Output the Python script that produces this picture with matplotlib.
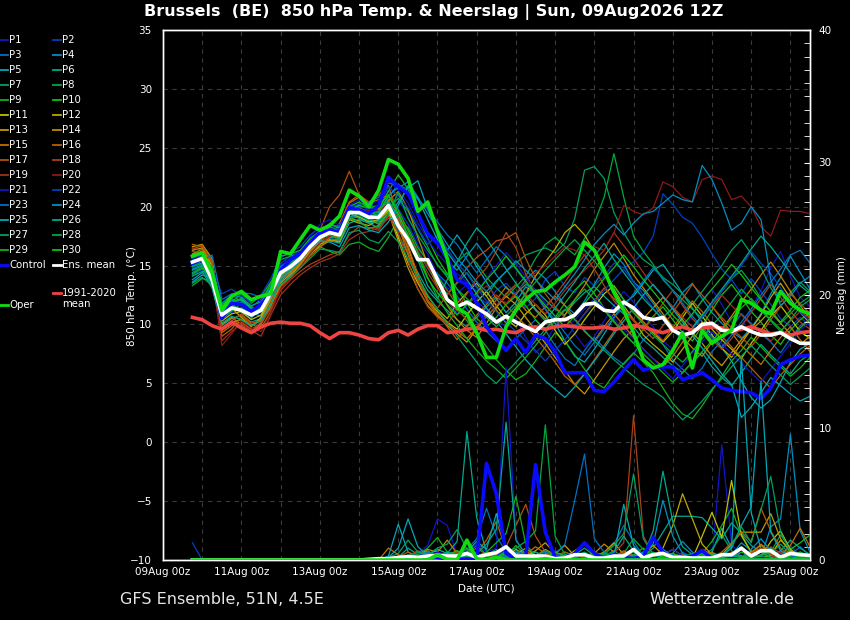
import numpy as np
import pandas as pd
import matplotlib
matplotlib.use("Agg")
import matplotlib.pyplot as plt
import matplotlib.dates as mdates
from matplotlib.lines import Line2D
from matplotlib.ticker import MultipleLocator

W, H = 850, 620

# 6-hourly steps, 09Aug 18z .. 25Aug 12z (64 steps)
times = pd.date_range("2026-08-09 18:00", periods=64, freq="6h")

#########################
##  850 hPa temperature ##
#########################

t_mean = [15.3, 15.6, 13.8, 10.8, 11.4, 11.2, 10.8, 11.2, 12.7, 14.4, 14.9, 15.6, 16.6, 17.4, 17.8, 17.6,
          19.5, 19.5, 19.1, 19.1, 20.1, 18.4, 17.2, 15.5, 15.5, 13.8, 12.1, 11.5, 11.9, 11.4, 10.9, 10.2,
          10.7, 10.2, 9.8, 9.4, 10.2, 10.4, 10.4, 10.8, 11.7, 11.8, 11.2, 11.1, 11.9, 11.4, 10.6, 10.4,
          10.6, 9.5, 9.1, 9.3, 10.0, 10.1, 9.5, 9.4, 9.8, 9.4, 9.1, 9.1, 9.3, 8.8, 8.4, 8.4]

t_control = [15.2, 15.6, 14.1, 10.5, 11.8, 11.7, 11.1, 11.7, 12.6, 14.6, 15.5, 16.0, 16.9, 17.8, 18.0, 17.8,
             19.9, 19.7, 19.4, 20.1, 22.5, 21.7, 21.1, 19.4, 17.7, 16.9, 15.6, 13.8, 13.4, 11.8, 9.8, 8.8,
             7.8, 8.8, 7.6, 9.1, 8.8, 7.7, 5.9, 5.9, 5.9, 4.4, 4.3, 5.1, 6.1, 7.0, 6.1, 6.4,
             6.4, 6.4, 5.3, 5.6, 5.9, 5.3, 4.6, 4.4, 4.3, 4.2, 3.7, 4.6, 6.6, 7.0, 7.3, 7.4]

t_oper = [15.8, 16.1, 14.4, 11.2, 12.4, 12.8, 12.1, 12.4, 12.6, 16.2, 16.0, 17.2, 18.4, 18.0, 18.4, 19.2,
          21.4, 20.9, 20.0, 21.4, 24.0, 23.6, 22.4, 19.6, 20.4, 17.9, 15.6, 11.4, 10.9, 9.3, 7.2, 7.2,
          9.8, 11.2, 12.1, 12.8, 12.9, 13.6, 14.2, 14.9, 17.0, 16.3, 14.6, 12.7, 11.2, 9.3, 7.0, 6.3,
          6.6, 7.8, 9.3, 6.3, 9.5, 8.4, 9.0, 9.5, 12.1, 11.8, 11.2, 10.9, 12.8, 11.8, 11.2, 10.9]

t_clim = [10.6, 10.4, 9.9, 9.6, 10.2, 9.7, 9.3, 9.8, 10.1, 10.2, 10.1, 10.1, 9.9, 9.3, 8.8, 9.3,
          9.3, 9.1, 8.8, 8.7, 9.3, 9.5, 9.1, 9.6, 9.9, 9.9, 9.3, 9.4, 9.6, 9.7, 9.5, 9.6,
          9.4, 9.3, 9.7, 9.8, 9.6, 9.8, 9.9, 9.8, 9.7, 9.7, 9.8, 9.6, 9.7, 9.9, 9.8, 9.5,
          9.3, 9.6, 9.8, 9.5, 9.7, 9.8, 9.7, 9.4, 9.6, 9.8, 9.5, 9.2, 9.3, 9.1, 9.3, 9.4]

t_p01 = [14.8, 15.3, 14.2, 10.2, 11.0, 11.5, 10.6, 11.0, 12.2, 14.8, 15.4, 15.9, 16.9, 17.6, 18.2, 17.9,
         19.8, 20.3, 19.6, 19.9, 21.8, 20.6, 19.2, 17.1, 16.0, 14.2, 13.1, 12.6, 13.4, 12.0, 11.2, 10.4,
         9.8, 10.5, 8.9, 7.6, 8.4, 9.9, 10.6, 9.2, 8.1, 9.0, 10.3, 11.6, 12.8, 11.9, 10.7, 9.8,
         8.6, 7.9, 9.4, 10.8, 12.1, 13.0, 11.7, 10.2, 9.6, 11.3, 12.9, 14.8, 16.2, 14.1, 12.3, 11.5]
t_p02 = [15.6, 15.9, 14.6, 11.3, 12.0, 11.7, 11.1, 11.8, 13.1, 15.2, 15.8, 16.3, 17.2, 18.0, 18.6, 18.1,
         20.2, 20.0, 19.4, 19.7, 21.4, 19.8, 18.5, 16.7, 15.2, 13.6, 12.0, 10.9, 11.6, 12.4, 11.8, 12.9,
         13.5, 12.6, 11.4, 12.2, 13.8, 14.5, 13.2, 12.7, 14.0, 13.3, 14.1, 15.2, 14.8, 15.3, 16.1, 17.5,
         21.1, 20.2, 19.1, 18.6, 17.4, 16.0, 14.7, 13.8, 12.6, 13.9, 12.8, 11.7, 10.5, 9.8, 10.6, 9.9]
t_p03 = [14.2, 14.7, 13.4, 10.6, 11.3, 12.3, 11.5, 11.2, 12.9, 14.0, 14.6, 15.3, 16.2, 17.0, 17.3, 17.1,
         19.0, 19.3, 19.0, 18.7, 19.6, 18.0, 16.9, 15.9, 15.0, 14.3, 13.5, 12.4, 11.3, 10.2, 9.4, 8.6,
         7.9, 8.8, 9.6, 10.4, 9.5, 8.2, 7.1, 6.5, 7.8, 8.9, 8.0, 7.2, 6.6, 7.5, 8.7, 9.4,
         8.3, 7.0, 6.2, 5.4, 6.3, 7.7, 8.6, 9.8, 10.9, 10.1, 9.2, 8.5, 7.6, 8.8, 9.9, 10.4]
t_p04 = [15.0, 15.2, 14.0, 11.0, 11.8, 11.0, 10.5, 11.5, 12.6, 14.1, 15.0, 15.4, 16.5, 17.2, 17.9, 17.8,
         19.6, 19.9, 19.5, 19.3, 20.8, 21.9, 21.2, 19.5, 17.6, 16.8, 15.4, 14.6, 15.8, 16.9, 15.7, 14.2,
         13.1, 12.5, 13.8, 14.6, 13.9, 12.8, 11.6, 10.9, 12.0, 13.4, 14.8, 16.0, 15.1, 13.6, 12.9, 11.8,
         10.6, 11.4, 12.7, 13.5, 12.2, 11.0, 10.1, 9.4, 8.8, 9.7, 10.9, 12.6, 14.0, 15.8, 14.4, 13.0]
t_p05 = [13.8, 14.4, 14.9, 10.9, 11.6, 11.9, 11.0, 10.7, 12.3, 13.6, 14.2, 15.0, 15.9, 16.8, 17.1, 16.9,
         18.6, 18.9, 18.6, 18.2, 19.2, 20.4, 21.6, 22.2, 19.8, 17.9, 16.3, 17.6, 16.4, 14.9, 13.6, 12.2,
         11.0, 11.9, 13.2, 12.6, 11.3, 10.1, 8.6, 7.3, 6.8, 7.9, 9.2, 10.6, 11.8, 12.4, 13.5, 14.6,
         15.1, 13.9, 12.6, 11.4, 10.2, 9.1, 8.0, 6.9, 5.2, 3.8, 2.9, 3.6, 5.1, 6.8, 7.9, 8.4]
t_p06 = [14.6, 15.0, 13.2, 9.9, 10.5, 10.8, 10.2, 10.5, 12.0, 13.9, 14.5, 15.2, 16.1, 16.9, 17.4, 17.3,
         19.1, 19.4, 18.9, 18.5, 19.8, 17.6, 16.0, 14.4, 12.9, 12.0, 11.2, 10.4, 9.8, 10.6, 11.5, 12.3,
         11.8, 12.6, 13.4, 12.9, 12.1, 11.3, 10.8, 11.9, 12.7, 13.2, 12.4, 11.6, 10.9, 9.8, 8.7, 8.0,
         7.2, 6.5, 5.9, 6.8, 7.6, 6.4, 5.5, 4.8, 5.9, 7.1, 8.3, 7.4, 6.6, 5.8, 6.9, 7.5]
t_p07 = [14.4, 14.9, 13.6, 10.4, 11.2, 11.4, 10.9, 11.6, 13.0, 14.6, 15.1, 15.8, 16.8, 17.8, 18.1, 17.7,
         19.7, 19.5, 19.2, 19.4, 20.6, 18.9, 17.4, 16.2, 14.8, 13.5, 12.6, 13.5, 14.4, 13.2, 12.4, 13.6,
         14.5, 15.2, 15.9, 16.2, 16.5, 16.1, 16.9, 19.0, 23.1, 23.4, 22.4, 19.5, 17.8, 16.4, 15.5, 14.9,
         14.0, 13.4, 12.6, 11.7, 12.8, 13.9, 15.0, 16.3, 17.2, 16.0, 14.8, 13.1, 11.9, 12.7, 13.6, 12.8]
t_p08 = [15.1, 15.5, 14.1, 11.6, 12.4, 12.0, 11.5, 12.1, 13.4, 15.5, 15.8, 16.0, 17.0, 17.5, 17.6, 17.4,
         18.9, 19.2, 18.8, 18.6, 19.9, 20.7, 19.6, 18.1, 16.6, 15.0, 14.2, 15.3, 16.1, 15.2, 14.0, 13.1,
         12.3, 13.2, 14.1, 15.6, 16.8, 17.4, 16.6, 15.9, 17.3, 18.6, 20.8, 24.5, 20.8, 17.5, 16.2, 15.1,
         13.8, 12.9, 12.1, 11.3, 10.5, 11.6, 12.8, 13.9, 14.6, 13.5, 12.2, 11.0, 10.1, 10.9, 11.8, 12.4]
t_p09 = [13.3, 13.9, 13.7, 11.1, 11.9, 12.6, 11.8, 12.4, 13.6, 14.8, 15.4, 16.1, 16.4, 16.6, 16.2, 15.9,
         16.8, 17.0, 16.5, 16.2, 17.4, 19.0, 18.2, 16.5, 15.4, 14.1, 12.9, 11.6, 10.3, 9.2, 8.1, 7.0,
         6.1, 5.3, 5.8, 6.9, 8.1, 9.3, 8.6, 7.4, 6.2, 5.1, 4.6, 5.8, 6.7, 7.6, 6.8, 5.9,
         4.6, 3.3, 2.4, 2.0, 3.1, 4.4, 5.6, 6.9, 7.8, 8.9, 8.1, 7.2, 6.4, 5.6, 6.3, 7.2]
t_p10 = [15.4, 15.8, 14.4, 10.7, 11.5, 11.2, 10.9, 11.4, 12.9, 14.4, 15.1, 15.9, 17.0, 17.6, 18.3, 18.0,
         20.0, 20.4, 19.9, 19.8, 21.3, 22.7, 21.5, 19.2, 17.3, 15.6, 14.3, 13.0, 11.8, 10.5, 9.8, 10.6,
         11.7, 12.4, 11.6, 10.4, 9.5, 10.6, 11.8, 12.9, 13.7, 12.6, 11.4, 10.3, 9.2, 8.4, 9.6, 10.7,
         11.5, 10.4, 9.3, 8.6, 9.9, 11.2, 12.5, 13.4, 12.3, 11.1, 10.2, 9.1, 8.3, 9.5, 10.4, 11.0]
t_p11 = [15.9, 16.2, 15.0, 10.3, 10.9, 11.1, 10.4, 10.8, 12.4, 14.2, 14.7, 15.4, 16.5, 17.3, 17.6, 17.5,
         19.4, 19.1, 18.7, 18.9, 19.7, 17.4, 15.2, 13.5, 12.0, 11.1, 10.2, 9.6, 10.8, 11.9, 12.8, 11.6,
         10.5, 9.8, 10.9, 11.7, 10.8, 9.5, 8.3, 9.2, 10.4, 11.5, 12.6, 13.3, 12.1, 11.0, 10.2, 9.3,
         8.5, 9.4, 10.6, 11.8, 10.7, 9.6, 8.7, 7.9, 7.1, 8.4, 9.5, 10.7, 11.6, 10.5, 9.4, 8.8]
t_p12 = [16.3, 16.5, 15.3, 10.9, 11.4, 10.6, 9.8, 10.6, 12.1, 13.9, 14.5, 15.1, 16.0, 16.8, 17.2, 17.0,
         18.9, 18.6, 18.4, 18.9, 20.0, 18.2, 16.5, 14.1, 12.4, 11.3, 10.5, 11.8, 12.7, 13.5, 12.4, 11.2,
         10.1, 11.4, 12.6, 14.1, 15.3, 16.4, 17.8, 18.5, 17.6, 16.2, 14.5, 13.0, 11.6, 10.4, 9.1, 8.3,
         7.6, 6.8, 7.9, 9.0, 10.2, 9.1, 8.0, 7.2, 8.4, 9.6, 10.8, 12.3, 13.5, 12.2, 11.0, 10.1]
t_p13 = [16.6, 16.8, 15.6, 9.6, 10.2, 10.4, 9.9, 10.4, 11.8, 13.5, 14.3, 15.0, 16.0, 16.6, 17.1, 17.2,
         19.0, 18.8, 18.1, 18.4, 19.5, 17.1, 14.8, 13.0, 11.6, 10.7, 9.9, 9.2, 8.5, 9.6, 10.7, 11.5,
         12.4, 11.7, 10.6, 9.5, 8.4, 7.2, 6.1, 4.9, 4.1, 5.3, 6.5, 7.7, 8.8, 9.6, 10.5, 11.4,
         12.3, 11.5, 10.4, 9.3, 8.4, 7.3, 6.5, 7.6, 8.7, 9.5, 10.3, 11.2, 10.1, 9.2, 8.3, 9.0]
t_p14 = [16.0, 16.4, 15.1, 10.0, 10.6, 10.0, 9.4, 10.1, 11.6, 13.3, 14.1, 15.0, 16.2, 17.0, 17.5, 17.4,
         19.3, 19.7, 19.3, 19.0, 20.5, 21.3, 19.8, 17.4, 15.1, 13.2, 11.6, 10.4, 9.5, 8.9, 10.1, 11.4,
         12.6, 13.4, 12.5, 11.3, 10.5, 9.7, 10.8, 12.1, 13.3, 14.7, 15.8, 16.9, 15.6, 14.2, 13.1, 12.0,
         10.9, 9.8, 8.9, 8.0, 7.3, 8.5, 9.6, 10.7, 11.9, 13.0, 14.2, 15.3, 14.1, 12.8, 11.6, 10.5]
t_p15 = [15.7, 16.0, 14.8, 9.3, 9.9, 10.2, 9.6, 10.0, 11.5, 13.7, 14.4, 15.2, 16.3, 17.1, 17.8, 17.9,
         20.3, 20.8, 20.2, 19.8, 20.3, 18.4, 15.9, 13.7, 11.9, 10.8, 10.1, 9.4, 8.8, 9.7, 10.9, 12.1,
         13.2, 12.3, 11.2, 10.6, 11.5, 12.4, 11.6, 10.5, 9.4, 8.6, 9.8, 10.9, 9.9, 8.9, 7.9, 7.1,
         6.4, 7.3, 8.5, 9.6, 10.8, 11.6, 10.4, 9.3, 8.2, 7.4, 6.6, 7.8, 8.9, 9.8, 8.7, 7.7]
t_p16 = [16.8, 16.6, 15.4, 9.0, 9.6, 10.7, 10.0, 9.7, 11.1, 13.2, 14.0, 14.8, 15.8, 16.5, 17.4, 18.6,
         20.4, 21.0, 20.3, 20.6, 21.0, 19.3, 16.7, 14.2, 12.1, 10.9, 9.8, 8.7, 9.9, 10.8, 11.7, 12.5,
         11.6, 10.8, 9.9, 8.9, 7.9, 6.8, 5.6, 4.9, 5.8, 7.0, 8.2, 9.4, 10.6, 11.3, 10.2, 9.4,
         8.6, 9.7, 10.9, 12.0, 11.1, 10.0, 9.0, 8.1, 7.2, 6.3, 5.4, 4.6, 5.7, 6.6, 7.5, 8.2]
t_p17 = [16.4, 16.7, 15.2, 9.7, 10.3, 10.9, 10.1, 10.3, 11.9, 14.0, 14.6, 15.5, 16.7, 18.0, 20.0, 21.0,
         23.0, 21.0, 20.4, 21.0, 21.8, 19.0, 16.2, 13.8, 12.0, 11.4, 12.5, 13.6, 14.8, 15.7, 16.3, 17.1,
         17.3, 17.8, 15.6, 13.9, 12.6, 11.5, 10.6, 9.8, 10.9, 12.0, 13.1, 12.2, 11.3, 10.4, 9.6, 8.8,
         9.9, 11.0, 12.2, 13.4, 12.5, 11.5, 10.6, 9.7, 8.9, 8.1, 9.2, 10.4, 11.5, 12.6, 11.8, 10.9]
t_p18 = [16.2, 16.1, 14.5, 9.5, 10.0, 9.9, 9.5, 10.2, 11.3, 12.9, 13.8, 14.5, 15.1, 15.5, 15.9, 16.2,
         17.6, 18.3, 18.2, 18.0, 19.2, 17.8, 15.4, 13.0, 11.5, 10.6, 10.0, 11.3, 12.6, 13.9, 14.8, 16.2,
         17.8, 16.5, 14.3, 12.6, 11.4, 12.5, 13.6, 14.8, 15.9, 14.7, 13.3, 12.0, 11.1, 10.3, 9.5, 10.6,
         11.8, 12.9, 11.6, 10.5, 9.6, 8.7, 7.9, 8.8, 9.9, 11.0, 12.2, 13.4, 12.3, 11.1, 10.2, 9.6]
t_p19 = [16.5, 16.3, 13.9, 8.6, 9.4, 10.1, 9.5, 9.0, 10.8, 12.5, 13.4, 14.2, 14.8, 15.3, 15.6, 16.0,
         17.2, 17.7, 17.9, 18.2, 19.0, 18.6, 17.7, 16.0, 14.4, 13.1, 12.0, 11.2, 10.4, 9.8, 10.7, 11.6,
         12.5, 13.4, 12.6, 11.7, 10.9, 11.8, 12.9, 13.8, 14.6, 15.4, 16.3, 17.8, 16.7, 15.6, 14.4, 13.3,
         12.4, 11.5, 10.6, 9.8, 10.7, 11.6, 12.5, 11.6, 10.8, 10.0, 9.3, 8.6, 9.4, 10.3, 11.1, 10.5]
t_p20 = [15.8, 16.1, 14.7, 8.2, 9.2, 10.3, 9.7, 9.4, 11.0, 13.0, 13.9, 14.9, 16.0, 16.9, 17.5, 17.7,
         19.5, 19.8, 19.7, 19.6, 20.3, 19.5, 17.9, 16.3, 14.9, 13.7, 12.8, 12.1, 11.6, 12.5, 13.3, 12.4,
         11.8, 12.7, 13.6, 14.4, 15.0, 15.8, 16.6, 16.3, 15.9, 16.6, 16.3, 17.8, 20.1, 19.6, 19.3, 19.9,
         22.1, 21.7, 20.8, 20.4, 22.3, 22.6, 22.3, 20.6, 20.9, 20.0, 18.3, 17.5, 19.7, 19.6, 19.6, 19.4]
t_p21 = [15.5, 15.7, 14.3, 11.4, 12.1, 12.9, 12.2, 12.0, 13.3, 15.0, 15.6, 16.2, 17.4, 18.5, 18.9, 18.4,
         20.1, 20.6, 20.0, 20.5, 22.2, 21.4, 20.3, 18.6, 17.2, 16.0, 15.1, 14.3, 13.6, 12.8, 13.9, 15.0,
         16.1, 15.2, 14.0, 12.9, 11.8, 10.7, 9.6, 10.4, 11.3, 12.2, 11.4, 10.5, 9.6, 8.8, 7.9, 7.1,
         6.2, 5.4, 6.5, 7.6, 8.5, 9.4, 8.4, 7.5, 6.7, 5.9, 5.1, 6.2, 7.3, 8.4, 9.5, 10.2]
t_p22 = [15.3, 15.6, 14.8, 12.6, 13.0, 12.4, 11.9, 12.5, 13.9, 15.7, 16.1, 16.6, 17.6, 18.2, 18.4, 18.0,
         20.0, 20.1, 19.8, 20.2, 21.7, 20.9, 19.9, 18.2, 16.8, 17.6, 16.4, 15.2, 14.3, 13.1, 12.0, 11.1,
         10.2, 9.4, 8.6, 7.8, 6.9, 7.8, 8.7, 9.8, 10.9, 11.8, 12.9, 13.8, 14.7, 13.6, 12.5, 11.4,
         10.4, 9.5, 8.7, 9.6, 10.6, 11.7, 12.8, 13.9, 15.0, 16.2, 15.2, 14.3, 13.1, 12.0, 11.0, 10.3]
t_p23 = [14.9, 15.4, 15.9, 12.1, 12.6, 12.7, 12.6, 12.3, 13.1, 14.5, 15.3, 15.9, 16.9, 17.9, 18.5, 18.3,
         19.7, 20.2, 20.4, 20.8, 22.0, 21.8, 21.5, 20.6, 19.8, 18.7, 17.6, 16.8, 15.5, 14.4, 15.5, 16.6,
         15.8, 14.7, 13.6, 12.5, 11.3, 10.4, 9.3, 8.2, 7.4, 8.5, 9.6, 10.6, 11.5, 12.6, 13.7, 14.8,
         13.9, 12.9, 11.8, 10.7, 9.8, 8.9, 8.1, 9.1, 10.2, 11.3, 12.5, 13.6, 14.7, 15.9, 16.3, 15.2]
t_p24 = [14.7, 15.1, 14.6, 11.8, 12.5, 12.3, 11.6, 11.9, 13.2, 14.9, 15.5, 16.0, 17.1, 17.8, 18.0, 17.6,
         19.3, 19.6, 19.5, 19.5, 21.0, 21.6, 22.1, 20.8, 19.4, 18.1, 16.8, 15.6, 14.7, 13.6, 12.8, 13.7,
         14.5, 15.4, 14.6, 13.8, 12.9, 12.1, 13.2, 14.3, 15.5, 16.8, 17.7, 18.5, 17.6, 18.6, 19.4, 19.6,
         20.3, 21.0, 20.6, 20.4, 23.5, 22.3, 20.3, 18.0, 18.6, 20.0, 18.9, 13.8, 11.6, 12.4, 13.5, 14.1]
t_p25 = [13.6, 14.2, 13.9, 11.5, 12.0, 12.1, 11.3, 11.1, 12.5, 14.0, 14.8, 15.6, 16.4, 17.1, 17.0, 16.6,
         18.2, 18.4, 18.0, 17.8, 18.7, 20.1, 21.8, 20.7, 18.9, 17.2, 16.1, 15.0, 13.8, 12.6, 11.4, 10.3,
         9.2, 8.1, 7.0, 6.1, 5.2, 4.5, 3.8, 4.7, 5.8, 6.9, 8.0, 9.2, 10.3, 11.4, 12.5, 13.4,
         12.4, 11.3, 10.2, 9.1, 8.0, 6.9, 5.8, 4.9, 2.1, 3.0, 4.2, 5.5, 4.8, 4.1, 3.5, 3.9]
t_p26 = [14.1, 14.5, 13.1, 10.1, 10.7, 10.4, 9.9, 10.3, 11.7, 13.8, 14.6, 15.4, 16.5, 17.4, 17.7, 17.5,
         19.4, 19.0, 18.6, 18.8, 20.4, 19.3, 17.5, 15.5, 13.3, 12.2, 13.8, 15.3, 16.9, 18.2, 17.3, 16.0,
         14.7, 13.5, 12.3, 11.2, 10.3, 11.4, 12.5, 13.6, 14.8, 15.8, 16.9, 15.5, 14.4, 13.3, 12.2, 11.3,
         10.4, 9.5, 8.8, 9.7, 10.8, 11.9, 13.0, 14.1, 15.2, 16.4, 17.5, 16.6, 15.5, 14.4, 13.3, 12.6]
t_p27 = [13.5, 14.0, 13.3, 10.5, 11.1, 11.8, 11.2, 11.4, 12.4, 13.4, 14.0, 14.8, 15.6, 16.4, 16.3, 16.1,
         17.8, 18.0, 17.2, 16.9, 17.9, 17.0, 15.6, 14.0, 12.5, 11.3, 10.1, 9.0, 7.9, 6.8, 5.7, 5.0,
         5.9, 6.8, 7.7, 8.6, 9.6, 10.5, 11.3, 10.4, 9.5, 8.6, 7.8, 7.0, 6.3, 5.6, 4.9, 4.4,
         3.8, 2.8, 1.9, 2.6, 3.5, 4.5, 5.4, 6.4, 7.3, 8.2, 7.4, 6.5, 5.7, 4.9, 5.6, 6.3]
t_p28 = [14.9, 15.2, 13.5, 10.8, 11.6, 11.3, 10.7, 11.1, 12.8, 14.7, 15.3, 15.7, 16.6, 17.3, 17.6, 17.2,
         19.0, 18.7, 18.2, 18.3, 19.4, 21.2, 19.0, 17.6, 16.3, 15.1, 14.0, 13.0, 12.2, 11.4, 10.6, 9.8,
         10.7, 11.6, 12.6, 13.6, 14.6, 15.5, 16.4, 17.2, 16.3, 15.4, 14.3, 13.2, 12.1, 11.0, 10.0, 9.1,
         8.3, 7.5, 6.8, 7.7, 8.8, 9.9, 10.8, 11.9, 13.0, 12.1, 11.2, 10.3, 9.4, 10.4, 11.5, 12.1]
t_p29 = [14.3, 14.8, 14.0, 11.7, 12.2, 11.6, 11.2, 11.7, 13.5, 15.8, 16.0, 16.3, 17.3, 17.9, 18.5, 18.2,
         19.9, 19.7, 19.3, 19.6, 20.9, 19.7, 18.0, 16.1, 14.0, 12.3, 11.0, 9.9, 8.8, 7.8, 6.9, 6.2,
         5.4, 6.3, 7.2, 8.2, 9.3, 10.3, 11.2, 12.1, 13.0, 12.1, 11.2, 10.2, 9.3, 8.4, 7.5, 6.7,
         5.9, 5.1, 5.9, 6.8, 7.7, 8.6, 9.5, 10.5, 11.4, 12.2, 11.3, 10.4, 9.6, 8.8, 9.7, 10.5]
t_p30 = [15.2, 15.7, 14.9, 11.3, 11.9, 12.2, 11.4, 11.3, 12.7, 14.3, 15.0, 15.8, 16.9, 17.7, 17.9, 17.6,
         19.6, 20.1, 19.9, 20.1, 21.0, 19.4, 17.6, 15.7, 13.9, 12.7, 11.7, 10.8, 11.7, 12.7, 13.8, 14.7,
         15.8, 14.8, 13.7, 12.6, 11.6, 10.7, 9.8, 10.7, 11.8, 12.8, 13.9, 14.8, 15.9, 14.9, 13.8, 12.8,
         11.8, 10.8, 9.9, 10.9, 12.0, 13.0, 14.0, 15.1, 14.2, 13.1, 12.1, 11.1, 10.2, 11.2, 12.3, 12.9]

#########################
##   neerslag (mm)     ##
#########################

r_mean = [0, 0, 0, 0, 0, 0, 0, 0, 0, 0, 0, 0, 0, 0, 0, 0,
          0, 0, 0.05, 0.1, 0.1, 0.2, 0.25, 0.2, 0.3, 0.35, 0.3, 0.3, 0.5, 0.2, 0.4, 0.55,
          1.0, 0.3, 0.3, 0.3, 0.3, 0.1, 0.15, 0.4, 0.4, 0.15, 0.15, 0.3, 0.3, 0.8, 0.15, 0.4,
          0.5, 0.2, 0.2, 0.15, 0.15, 0.15, 0.4, 0.4, 0.9, 0.3, 0.7, 0.7, 0.2, 0.5, 0.4, 0.35]

r_control = [0, 0, 0, 0, 0, 0, 0, 0, 0, 0, 0, 0, 0, 0, 0, 0,
             0, 0, 0, 0, 0, 0, 0.1, 0.2, 0.3, 0.2, 0.1, 0, 0.1, 0, 7.3, 5.0,
             0.5, 0.1, 0.2, 7.2, 2.1, 0.2, 0, 0.5, 1.3, 0.5, 0.1, 0.4, 0.2, 0.1, 0.3, 1.7,
             0.6, 0.1, 0.1, 0.3, 0.7, 0.1, 0, 0.1, 0, 0, 0.1, 0, 0, 0, 0, 0]

r_oper = [0, 0, 0, 0, 0, 0, 0, 0, 0, 0, 0, 0, 0, 0, 0, 0,
          0, 0, 0, 0, 0, 0, 0, 0, 0, 0.4, 0.05, 0, 1.5, 0.1, 0, 0.2,
          0, 0, 0, 0, 0.1, 0, 0, 0, 0, 0, 0, 0, 0, 0, 0, 0,
          0, 0, 0, 0, 0, 0, 0, 0, 0, 0, 0, 0, 0, 0, 0, 0]

# members are dry up to 14Aug 18z
dry = [0.0] * 20

r_p01 = dry + [0, 0, 0.2, 0.5, 1.1, 3.1, 2.6, 0.4, 0.2, 0, 0.3,
               0.1, 0.6, 0.2, 0, 0, 0.3, 0.1, 0, 0, 0.4, 0.2,
               0, 0, 0.3, 0.8, 0.2, 0, 0, 0.1, 0, 0.5, 0.1,
               0, 8.7, 1.2, 0.3, 0, 0.2, 0.6, 0.1, 0, 0.3, 0.1]
r_p02 = [1.3] + dry[1:] + [0, 0, 0, 0.1, 0.3, 0.2, 0.6, 0.4, 0.1, 0, 0.2,
                          0.5, 0.3, 0.1, 0, 0, 0.2, 0.7, 0.1, 0, 0, 0.3,
                          0.1, 0, 0, 0.2, 0.4, 0.1, 0, 0, 0.6, 0.2, 0,
                          0, 0.1, 0.3, 0.8, 0.2, 0, 0, 0.4, 1.1, 0.3, 0.1]
r_p03 = dry + [0, 0, 0, 0, 0.2, 0.1, 0, 0.3, 0.8, 1.6, 3.9,
               1.8, 0.6, 0.2, 0, 0.1, 0, 0, 0.3, 0.2, 0, 0,
               0.4, 1.2, 2.6, 1.4, 0.3, 0, 0, 0.1, 0, 0, 0.2,
               0.5, 0.1, 0, 0, 0.3, 0.2, 0, 0, 0.4, 1.0, 0.3]
r_p04 = dry + [0, 0, 0, 0, 0, 0.1, 0.3, 0.1, 0, 0, 0.2,
               0.4, 0.1, 0, 0.2, 0.6, 0.3, 0, 0, 0.1, 0, 0.2,
               0.6, 0.3, 0, 0, 0.2, 0.1, 0, 0.5, 1.4, 0.6, 0.1,
               0, 0.2, 0.4, 1.3, 0.7, 0.2, 2.5, 3.1, 9.5, 2.2, 0.6]
r_p05 = dry + [0.3, 2.7, 0.6, 0.2, 0, 0, 0.1, 0.4, 0.2, 0, 0,
               0.1, 0.8, 0.3, 0, 0, 0.2, 0, 0.1, 0.5, 0.2, 0,
               0, 0.3, 4.2, 1.1, 0.2, 0, 0, 0.3, 0.1, 0, 0.2,
               0.6, 2.4, 0.9, 15.3, 3.6, 0.8, 0.3, 0.1, 0, 0.2, 0.4]
r_p06 = dry + [0, 0.2, 0.9, 0.4, 0.3, 0.8, 0.5, 1.4, 9.7, 3.2, 0.6,
               0.2, 0, 0, 0.3, 0.6, 0.2, 0, 0, 0.4, 0.9, 0.3,
               0.1, 0, 0.2, 0.6, 0.3, 0.9, 2.1, 3.3, 3.3, 3.3, 3.2,
               2.4, 1.6, 2.8, 2.0, 1.1, 0.6, 0.3, 0.7, 1.5, 0.9, 0.4]
r_p07 = dry + [0.2, 0.5, 1.5, 0.6, 0.2, 0, 0.1, 0.3, 0.2, 0, 0.4,
               0.8, 0.2, 0, 0, 0.1, 0.3, 0.5, 0.2, 0, 0, 0.1,
               0.3, 0.6, 0.2, 0, 0, 0.1, 0.4, 0.2, 0, 0, 0.3,
               0.8, 1.9, 0.7, 0.2, 0, 0.1, 0.5, 1.2, 0.4, 0.1, 0]
r_p08 = dry + [0, 0, 0.1, 0.3, 0.7, 0.2, 0, 0.1, 0.5, 1.1, 0.4,
               0.2, 0.9, 0.4, 0.1, 0, 0.2, 0.1, 0, 0.3, 0.6, 0.2,
               0.1, 0, 0.5, 1.6, 0.8, 0.3, 0, 0.1, 0.2, 0, 0.4,
               0.2, 0, 0.3, 0.9, 0.4, 0.1, 0.6, 1.9, 0.8, 0.2, 0.1]
r_p09 = dry + [0, 0, 0.2, 0.4, 0.9, 1.7, 0.6, 0.3, 0.1, 0.4, 0.2,
               0, 0.3, 1.1, 0.4, 0.1, 0, 0.2, 0.6, 0.3, 0, 0,
               0.2, 0.1, 0, 0.4, 0.9, 0.3, 0, 0.2, 0.1, 0, 0.5,
               1.4, 2.6, 3.9, 1.8, 0.6, 0.2, 0, 0.3, 0.7, 0.2, 0.1]
r_p10 = dry + [0, 0.1, 0.3, 0.1, 0, 0.2, 0.5, 0.2, 0, 0, 0.3,
               0.1, 0, 0.2, 0.6, 0.2, 0, 0.1, 0.4, 0.2, 0, 0,
               0.3, 0.7, 0.2, 0, 0.1, 0.3, 0.1, 0, 0, 0.2, 0.5,
               0.1, 0, 0.2, 0.6, 0.3, 0.1, 0, 0.2, 0.8, 1.3, 1.9]
r_p11 = dry + [0, 0, 0.1, 0.2, 0.6, 0.3, 0.1, 0, 0.2, 0.5, 0.1,
               0, 0.2, 0.4, 0.9, 0.3, 0.1, 0, 0.2, 0.7, 1.2, 0.4,
               0.1, 0, 0.3, 0.2, 0, 0, 0.4, 0.8, 0.3, 0.1, 1.8,
               3.6, 1.7, 6.0, 1.9, 0.6, 0.2, 1.4, 2.2, 0.8, 0.3, 0.1]
r_p12 = dry + [0, 0, 0, 0.2, 0.4, 0.1, 0, 0.3, 0.6, 0.2, 0,
               0.1, 0.3, 0.8, 0.4, 0.2, 0, 0.5, 1.1, 0.3, 0, 0.2,
               0.6, 1.3, 0.4, 0.1, 0.3, 0.2, 0.9, 2.6, 5.0, 3.1, 1.2,
               0.4, 0.1, 0.3, 0.8, 0.2, 0, 0.4, 1.5, 0.7, 0.2, 0]
r_p13 = dry + [0, 0, 0, 0, 0.1, 0.3, 0.5, 0.2, 0, 0.1, 0.4,
               0.2, 0, 0.1, 0.3, 0.7, 1.3, 0.5, 0.1, 0, 0.2, 0.6,
               0.3, 0.1, 0, 0.2, 0.5, 1.1, 0.4, 0, 0.1, 0.3, 0.2,
               0, 0.4, 1.2, 2.1, 2.1, 2.1, 3.5, 1.6, 0.6, 0.2, 0.1]
r_p14 = dry + [0, 0, 0.2, 0.3, 0.8, 0.6, 1.5, 0.5, 0.2, 0, 0.1,
               0.4, 0.2, 0, 0, 0.3, 0.8, 0.4, 0.1, 0, 0.2, 0.5,
               1.2, 0.6, 0.2, 0, 0.1, 0.4, 0.2, 0, 0, 0.3, 0.8,
               0.4, 0.1, 0, 0.2, 0.6, 1.1, 0.5, 0.2, 0, 0.1, 0.3]
r_p15 = dry + [0.9, 0.4, 0.1, 0, 0.2, 0.5, 0.3, 0.1, 0, 0.2, 0.6,
               0.3, 0.1, 0, 0.4, 1.0, 0.5, 0.1, 0, 0.2, 0.3, 0.1,
               0, 0.2, 0.7, 0.3, 0, 0.1, 0.4, 0.2, 0, 0, 0.3,
               0.6, 0.2, 0, 0.1, 0.5, 1.2, 0.6, 0.3, 1.1, 2.4, 1.0]
r_p16 = dry + [0, 0.2, 0.6, 0.3, 0.1, 0, 0.4, 0.7, 0.3, 0.6, 1.5,
               2.9, 0.8, 0.2, 0, 0.1, 0, 0.3, 0.6, 0.2, 0, 0.1,
               0.4, 0.2, 0, 0.3, 0.6, 0.2, 0, 0.1, 0.4, 0.2, 0,
               0.2, 0.6, 1.3, 2.1, 1.4, 3.9, 2.2, 0.9, 0.3, 0.1, 0.2]
r_p17 = dry + [0, 0, 0.3, 0.7, 0.4, 0.1, 0, 0.2, 0.5, 0.9, 0.4,
               0.2, 1.0, 2.6, 4.2, 1.8, 0.6, 0.2, 0, 0.1, 0.3, 0.1,
               0, 0.2, 0.6, 0.3, 0, 0, 0.2, 0.5, 0.2, 0, 0.1,
               0.3, 0.1, 0, 0.2, 0.5, 0.9, 0.4, 0.1, 0, 0.2, 0.4]
r_p18 = dry + [0, 0, 0.1, 0.4, 0.2, 0, 0.3, 0.6, 0.2, 0, 0.1,
               0.4, 0.2, 0, 0.1, 0.3, 0.7, 0.2, 0, 0, 0.1, 0.3,
               0.2, 0.5, 1.3, 10.9, 1.8, 0.4, 0.1, 0, 0.2, 0.3, 0.1,
               0, 0.2, 0.6, 0.3, 0.1, 0.4, 1.0, 0.5, 0.2, 0, 0.1]
r_p19 = dry + [0, 0, 0, 0.2, 0.5, 0.3, 0.1, 0, 0.2, 0.4, 0.2,
               0, 0.1, 0.3, 0.2, 0, 0.1, 0.4, 0.2, 0, 0, 0.2,
               0.5, 0.2, 0, 0.1, 0.3, 0.1, 0, 0, 0.2, 0.4, 0.1,
               0, 0.1, 0.3, 0.2, 0, 0, 0.2, 0.6, 0.3, 0.1, 0]
r_p20 = dry + [0, 0, 0, 0, 0.1, 0.3, 0.2, 0, 0.1, 0.3, 0.1,
               0, 0, 0.2, 0.5, 0.2, 0, 0, 0.1, 0.3, 0.1, 0,
               0, 0.1, 0, 0, 0, 0.2, 0.1, 0, 0, 0, 0,
               0.1, 0, 0, 0, 0.2, 0.1, 0, 0, 0, 0.1, 0.2]
r_p21 = dry + [0, 0, 0, 0.1, 0.3, 0.6, 0.4, 0.2, 0.5, 1.2, 0.6,
               0.9, 14.5, 1.6, 0.4, 0.1, 0, 0.2, 0.5, 0.2, 0, 0.1,
               0.3, 0.6, 0.2, 0, 0, 0.1, 0.4, 0.8, 0.3, 0.1, 0,
               0.2, 0.5, 0.1, 0, 0.3, 0.6, 0.2, 0, 0.1, 0.4, 0.2]
r_p22 = dry + [0, 0, 0.2, 0.5, 0.2, 0, 0.1, 0.3, 0.6, 0.2, 0,
               0.3, 0.8, 0.4, 0.1, 0, 0.2, 0.5, 0.3, 0, 0, 0.2,
               0.4, 0.1, 0, 0.3, 0.6, 0.2, 0, 0.1, 0.3, 0.1, 0,
               0.2, 0.4, 0.1, 0, 0.3, 0.7, 0.2, 0, 0.1, 0.3, 0.5]
r_p23 = dry + [0, 0, 0.1, 0.2, 0.6, 0.3, 0.1, 0, 0.2, 0.4, 0.2,
               0.1, 0.3, 0.7, 0.4, 0.2, 0.6, 0.4, 1.2, 4.5, 8.0, 1.6,
               0.6, 0.2, 0.1, 0.3, 0.2, 0, 0.1, 0.4, 0.2, 0, 0.1,
               0.3, 0.2, 0, 0.1, 0.4, 0.2, 0, 0.1, 0.3, 0.2, 0]
r_p24 = dry + [0, 0, 0, 0.1, 0.3, 0.2, 0, 0.2, 0.5, 0.3, 0.1,
               0, 0.2, 0.6, 0.3, 0.1, 0, 0.2, 0.4, 0.2, 0, 0.1,
               0.3, 0.1, 0, 0.2, 0.6, 1.2, 4.5, 1.8, 0.5, 0.2, 0,
               0, 0.1, 0.3, 0.2, 0.8, 1.6, 0.7, 0.3, 0.1, 0.2, 0.4]
r_p25 = dry + [0.2, 0.9, 3.1, 1.0, 0.3, 0.1, 0, 0.2, 0.6, 1.4, 0.8,
               3.5, 0.9, 0.2, 0, 0.1, 0.3, 0.1, 0, 0.2, 0.5, 0.2,
               0, 0.1, 0.4, 0.2, 0, 0.3, 0.8, 0.3, 0.1, 0, 0.2,
               0.5, 0.3, 0.9, 2.6, 4.0, 13.5, 2.1, 0.7, 0.3, 0.6, 0.2]
r_p26 = dry + [0, 0.1, 0.4, 0.2, 0, 0.3, 0.6, 0.4, 0.2, 0.5, 1.2,
               2.3, 10.4, 1.5, 0.4, 0.1, 0, 0.3, 0.2, 0, 0.1, 0.4,
               0.2, 0.6, 1.8, 0.7, 0.3, 2.2, 6.7, 2.9, 1.0, 0.4, 0.1,
               0, 0.2, 0.5, 0.3, 0.1, 0.4, 0.9, 0.3, 0.1, 0, 0.2]
r_p27 = dry + [0, 0, 0.2, 0.6, 0.4, 0.9, 1.2, 2.3, 0.8, 0.2, 0,
               0.1, 0.4, 0.2, 0, 0.3, 0.7, 0.3, 0.1, 0, 0.2, 0.5,
               0.4, 1.1, 2.0, 6.5, 1.6, 0.4, 0.1, 0, 0.2, 0.5, 0.3,
               0.1, 0.3, 1.1, 2.5, 1.3, 3.8, 6.3, 2.1, 0.6, 0.2, 0.1]
r_p28 = dry + [0, 0, 0.1, 0.3, 0.2, 0, 0.2, 0.5, 0.3, 0.1, 0.4,
               0.2, 0.6, 0.9, 1.4, 2.2, 10.2, 1.8, 0.4, 0.1, 0, 0.2,
               0.5, 0.2, 0, 0.1, 0.3, 0.6, 0.2, 0, 0.1, 0.4, 0.2,
               0, 0.1, 0.4, 0.2, 0, 0.3, 0.7, 0.3, 0.1, 0, 0.2]
r_p29 = dry + [0, 0, 0, 0.2, 0.5, 0.3, 0.1, 0.4, 0.9, 0.3, 0.6,
               1.3, 2.0, 4.8, 1.2, 0.3, 0.1, 0, 0.2, 0.5, 0.3, 0,
               0.1, 0.3, 0.2, 0, 0.2, 0.5, 0.3, 0.1, 0, 0.2, 0.6,
               0.3, 0.1, 0, 0.2, 0.5, 0.2, 0.1, 0, 0.3, 0.6, 0.3]
r_p30 = dry + [0, 0, 0.2, 0.4, 0.1, 0, 0.3, 0.7, 0.3, 0.1, 0,
               0.2, 0.5, 0.3, 0.1, 0, 0.2, 0.6, 0.3, 0, 0.1, 0.3,
               0.2, 0, 0.1, 0.4, 0.2, 0, 0.3, 0.5, 0.2, 0, 0.1,
               0.4, 0.2, 0, 0.1, 0.3, 0.6, 0.2, 0, 0.1, 0.3, 0.2]

temps = [t_p01, t_p02, t_p03, t_p04, t_p05, t_p06, t_p07, t_p08, t_p09, t_p10,
         t_p11, t_p12, t_p13, t_p14, t_p15, t_p16, t_p17, t_p18, t_p19, t_p20,
         t_p21, t_p22, t_p23, t_p24, t_p25, t_p26, t_p27, t_p28, t_p29, t_p30]
rains = [r_p01, r_p02, r_p03, r_p04, r_p05, r_p06, r_p07, r_p08, r_p09, r_p10,
         r_p11, r_p12, r_p13, r_p14, r_p15, r_p16, r_p17, r_p18, r_p19, r_p20,
         r_p21, r_p22, r_p23, r_p24, r_p25, r_p26, r_p27, r_p28, r_p29, r_p30]

# kleuren P1..P20, P21..P30 herhalen P1..P10
kleuren = ['#1414c8', '#0040c0', '#0070c0', '#0090c0', '#00a8b8', '#00a890', '#00a060', '#00a840',
           '#10b020', '#10c010', '#c0c000', '#c0a800', '#c09800', '#c08800', '#c07000', '#b86000',
           '#b05010', '#a84018', '#a03020', '#901818']
kleuren = kleuren + kleuren[:10]

c_control = '#0a0aff'
c_oper = '#10dd10'
c_mean = '#ffffff'
c_clim = '#ee4444'

#########################
##      figuur         ##
#########################

fig = plt.figure(figsize=(8.5, 6.2), dpi=100, facecolor='black')
ax = fig.add_axes([163 / W, 60 / H, 647 / W, 530 / H])
ax.set_facecolor('black')
ax2 = ax.twinx()

for k in range(30):
    ax.plot(times, temps[k], color=kleuren[k], lw=0.9, zorder=3)
ax.plot(times, t_clim, color=c_clim, lw=2.6, zorder=4)
ax.plot(times, t_control, color=c_control, lw=2.6, zorder=5)
ax.plot(times, t_mean, color=c_mean, lw=2.6, zorder=5)
ax.plot(times, t_oper, color=c_oper, lw=2.6, zorder=6)

for k in range(30):
    ax2.plot(times, rains[k], color=kleuren[k], lw=0.9, zorder=3)
ax2.plot(times, r_control, color=c_control, lw=2.6, zorder=5)
ax2.plot(times, r_mean, color=c_mean, lw=2.6, zorder=5)
ax2.plot(times, r_oper, color=c_oper, lw=2.6, zorder=6)

ax.set_xlim(pd.Timestamp("2026-08-09 00:00"), pd.Timestamp("2026-08-25 12:00"))
ax.set_ylim(-10, 35)
ax.set_yticks(range(-10, 36, 5))
ax.set_xticks(pd.date_range("2026-08-09", "2026-08-25", freq="2D"))
ax.set_xticks(pd.date_range("2026-08-09", "2026-08-25", freq="1D"), minor=True)
ax.xaxis.set_major_formatter(mdates.DateFormatter("%d%b %Hz"))

grid_kw = dict(color='#3a3a3a', linestyle=(0, (4, 4)), linewidth=0.8)
ax.grid(True, which='both', axis='x', **grid_kw)
ax.grid(True, which='major', axis='y', **grid_kw)
ax.set_axisbelow(True)

ax.tick_params(axis='both', which='both', length=0, colors='white', labelsize=7.5)
ax.tick_params(axis='x', pad=5)
ax.tick_params(axis='y', pad=8)

ax2.set_ylim(0, 40)
ax2.set_yticks([0, 10, 20, 30, 40])
ax2.yaxis.set_minor_locator(MultipleLocator(1))
ax2.tick_params(axis='y', which='both', direction='in', color='white', length=4,
                labelcolor='white', labelsize=7.5, pad=6)

for a in (ax, ax2):
    for s in a.spines.values():
        s.set_color('white')
        s.set_linewidth(1.0)

ax.set_ylabel('850 hPa Temp. (°C)', color='white', fontsize=7.5)
ax.yaxis.set_label_coords(-0.040, 0.498)
ax2.set_ylabel('Neerslag (mm)', color='white', fontsize=7.5, labelpad=4)
ax.set_xlabel('Date (UTC)', color='white', fontsize=7.5, labelpad=5)

fig.text(434 / W, 1 - 12 / H, 'Brussels  (BE)  850 hPa Temp. & Neerslag | Sun, 09Aug2026 12Z',
         ha='center', va='center', color='white', fontsize=11.5, fontweight='bold')
fig.text(120 / W, 1 - 599 / H, 'GFS Ensemble, 51N, 4.5E', ha='left', va='center',
         color='#e6e6e6', fontsize=11.5)
fig.text(794 / W, 1 - 599 / H, 'Wetterzentrale.de', ha='right', va='center',
         color='#e6e6e6', fontsize=11.5)

#########################
##      legenda        ##
#########################

def leg_item(x0, y, color, label, lw=1.3):
    fig.add_artist(Line2D([x0 / W, (x0 + 8) / W], [1 - y / H, 1 - y / H],
                          transform=fig.transFigure, color=color, lw=lw))
    fig.text((x0 + 9) / W, 1 - y / H, label, ha='left', va='center',
             color='white', fontsize=7.3)

for k in range(30):
    col = k % 2
    row = k // 2
    leg_item(0 if col == 0 else 53, 40 + 15 * row, kleuren[k], 'P%d' % (k + 1))

leg_item(0, 265, c_control, 'Control', lw=2)
leg_item(53, 265, c_mean, 'Ens. mean', lw=2)
leg_item(53, 293, c_clim, '1991-2020', lw=2)
fig.text(62 / W, 1 - 304 / H, 'mean', ha='left', va='center', color='white', fontsize=7.3)
leg_item(0, 305, c_oper, 'Oper', lw=2)

fig.savefig('out.png', dpi=100, facecolor='black')
